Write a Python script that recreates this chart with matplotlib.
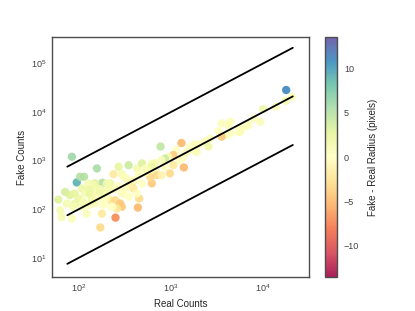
import numpy as np
import matplotlib
matplotlib.use("Agg")
import matplotlib.pyplot as plt
import seaborn as sns

sns.set_style("white")
plt.rcParams['font.family'] = ['Liberation Sans', 'DejaVu Sans']

# (real counts, fake counts, fake - real radius in pixels)
real_counts = [84, 95, 103, 114, 157, 181, 150, 219, 270, 347, 238, 293, 427, 485, 620,
               377, 306, 333, 393, 485, 620, 595, 60, 71, 80, 90, 108, 117, 133, 150,
               171, 202, 219, 248, 281, 293, 259, 229, 185, 150, 127, 108, 91, 74, 63,
               65, 84, 122, 178, 250, 171, 437, 452, 347, 427, 293, 318, 144, 127, 202,
               138, 99, 87, 675, 526,
               10000, 13800, 20500, 17500, 17800, 7850, 9300, 6900, 6400, 5600, 4400,
               4200, 3550, 3270, 4030, 3550, 4400, 5400, 2650, 2350, 2550, 2000, 1800,
               1750, 1600, 1300, 770, 1150, 1060, 935, 860, 790, 670, 1360, 1480, 1250,
               1380, 1060, 860, 700, 617, 1900, 975, 790, 5600,
               112, 160, 200, 240, 270, 210, 190, 140, 330, 360, 400, 450, 520, 560,
               170, 130]
fake_counts = [1200, 355, 465, 465, 690, 350, 340, 340, 745, 805, 525, 525, 690, 875, 875,
               365, 465, 290, 265, 340, 340, 465, 158, 227, 195, 210, 267, 211, 211, 227,
               211, 227, 153, 153, 131, 112, 103, 112, 121, 131, 121, 112, 131, 131, 95,
               69, 64, 81, 81, 67, 42, 108, 166, 180, 211, 211, 247, 312, 339, 339,
               166, 166, 112, 637, 690,
               11500, 12800, 20600, 17000, 28400, 7400, 6300, 5400, 5000, 4600, 6300,
               5400, 5850, 4050, 3350, 3100, 3650, 3900, 2850, 2500, 1950, 2100, 2150,
               1650, 1900, 2300, 1950, 1650, 1300, 1200, 1100, 1020, 880, 1200, 1500, 1020,
               720, 810, 745, 500, 745, 1500, 545, 500, 3900,
               140, 175, 190, 260, 300, 250, 150, 150, 420, 330, 400, 520, 560, 640,
               260, 250]
radius_diff = [6, 9, 5, 5, 5.5, 5, 3, 2, 2.5, 4, -2, 1, 1, 3, 0.5,
               -4, 0.5, 0, -2, 0, -4, -3, 3, 3.5, 3, 2.5, 2, 1, 2.5, 1,
               2.5, 1, -2, -3, -4, -4, -2, 0, 0, 0.5, 0.5, 0.5, 2, 1, 1,
               1, 0.5, 0.5, -2, -7, -3, -5, -3, 0, 0, 0.5, 0, 1, 1, 1,
               2, 2, 1, 0.5, 0.5,
               2, 0.5, 0.5, 1, 11, 0.5, 0.5, 0.5, 0, 0.5, 0.5,
               0.5, 0.5, 0, 0, -4, 0, 0.5, 0.5, 0.5, 2, 0.5, 0.5,
               0.5, 0, -5, 4.5, 0, -4, 0.5, 4, 0.5, 1, 0, 0.5, 0,
               -5, -2, 0, -3, 2, 0.5, -3, -1, 0.5,
               1, 0.5, 0.5, 0.5, 0, 1, 0, 1, 0.5, -1, 0, 0.5, 0, 0.5,
               1.5, 2]

line_x = [75, 21000]
line_factors = [10, 1, 0.1]

fig = plt.figure(figsize=(4.15, 3.11), dpi=100)
ax = fig.add_axes([0.125, 0.109, 0.62, 0.772])
cax = fig.add_axes([0.783, 0.109, 0.029, 0.772])

sc = ax.scatter(real_counts, fake_counts, c=radius_diff, cmap='Spectral',
                vmin=-13.5, vmax=13.5, s=36, alpha=0.88, linewidths=0)
for f in line_factors:
    ax.plot(line_x, [v * f for v in line_x], color='black', lw=1.3)

ax.set_xscale('log')
ax.set_yscale('log')
ax.set_xlim(51, 31600)
ax.set_ylim(4, 3.5e5)
ax.set_xlabel('Real Counts', fontsize=7, labelpad=3)
ax.set_ylabel('Fake Counts', fontsize=7, labelpad=3)
ax.tick_params(labelsize=6.5, length=0, pad=4, labelcolor='.25')
for sp in ax.spines.values():
    sp.set_color('.3')
    sp.set_linewidth(1.0)

cb = fig.colorbar(sc, cax=cax)
cb.set_label('Fake - Real Radius (pixels)', fontsize=7, labelpad=6)
cb.set_ticks([-10, -5, 0, 5, 10])
cb.ax.tick_params(labelsize=6.5, length=0, pad=5, labelcolor='.25')
cb.outline.set_edgecolor('.3')
cb.outline.set_linewidth(1.0)

fig.savefig('out.png', dpi=100)
